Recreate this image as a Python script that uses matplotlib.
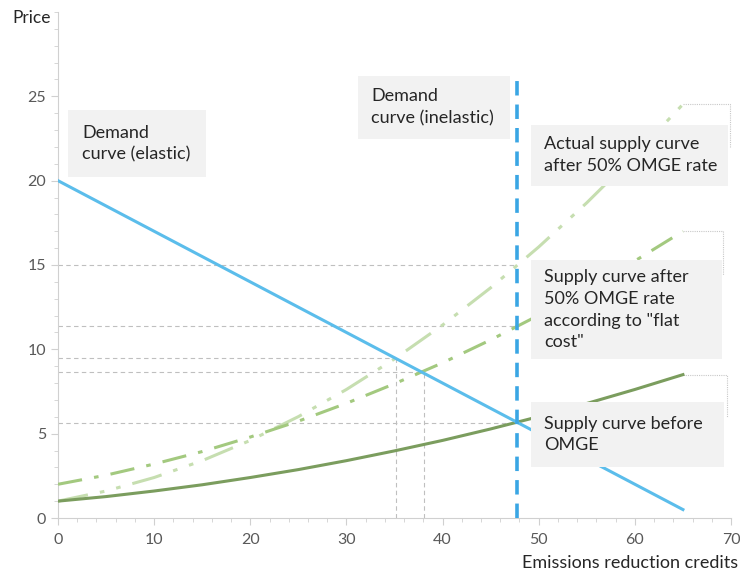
import numpy as np
import matplotlib
matplotlib.use("Agg")
import matplotlib.pyplot as plt
from matplotlib.ticker import MultipleLocator

plt.rcParams["font.family"] = ["Lato", "DejaVu Sans"]

# --- data ---
credits = [0, 5, 10, 15, 20, 25, 30, 35, 40, 45, 50, 55, 60, 65]
supply_before = [1.00, 1.27, 1.60, 1.97, 2.40, 2.87, 3.40, 3.98, 4.60, 5.28,
                 6.01, 6.79, 7.62, 8.50]
supply_flat = [2.00, 2.54, 3.20, 3.94, 4.80, 5.74, 6.80, 7.96, 9.20, 10.56,
               12.02, 13.58, 15.24, 17.00]
supply_actual = [1.00, 1.60, 2.40, 3.40, 4.60, 6.01, 7.62, 9.43, 11.44, 13.65,
                 16.07, 18.69, 21.51, 24.53]
demand_x = [0, 65]
demand_y = [20, 0.5]
inelastic_x = 47.7
inelastic_top = 26.0

# guide lines: (price level, x where it stops)
guide_h = [(15.0, 47.7), (11.4, 47.7), (9.47, 35.2), (8.65, 38.1), (5.65, 47.7)]
guide_v = [(35.2, 9.47), (38.1, 8.65)]

C_DEM = "#5BBDEB"
C_INEL = "#3AA6E4"
C_BEFORE = "#7B9D5E"
C_FLAT = "#A3C97F"
C_ACT = "#C6DEB0"
C_GUIDE = "#BFBFBF"
C_TXT = "#595959"
C_BOX = "#F2F2F2"

fig = plt.figure(figsize=(7.4, 5.72), dpi=100)
ax = fig.add_axes([58 / 740, 54 / 572, 673 / 740, 506 / 572])
ax.set_xlim(0, 70)
ax.set_ylim(0, 30)

for y, xe in guide_h:
    ax.plot([0, xe], [y, y], color=C_GUIDE, lw=0.8, ls=(0, (4, 3)), zorder=1)
for x, ye in guide_v:
    ax.plot([x, x], [0, ye], color=C_GUIDE, lw=0.8, ls=(0, (4, 3)), zorder=1)

ax.plot(credits, supply_actual, color=C_ACT, lw=2.2,
        ls=(0, (10, 4, 1.5, 4, 1.5, 4)), zorder=3)
ax.plot(credits, supply_flat, color=C_FLAT, lw=2.2,
        ls=(0, (8, 4, 1.5, 4)), zorder=3)
ax.plot(credits, supply_before, color=C_BEFORE, lw=2.2, zorder=4)
ax.plot(demand_x, demand_y, color=C_DEM, lw=2.2, zorder=4)
ax.plot([inelastic_x, inelastic_x], [0, inelastic_top], color=C_INEL, lw=2.6,
        ls=(0, (4, 2.5)), zorder=5)

# callout leaders from curve ends to the boxes
for yend, xr, ybot in [(supply_actual[-1], 69.9, 22.0),
                       (supply_flat[-1], 69.2, 14.4),
                       (supply_before[-1], 69.6, 5.99)]:
    ax.plot([65, xr, xr], [yend, yend, ybot], color="#C8C8C8", lw=0.8,
            ls=(0, (1, 1)), zorder=2, clip_on=False)

fs = 13
boxes = [
    (1.0, 20.2, 15.4, 24.2, 2.5, "Demand\ncurve (elastic)"),
    (31.2, 22.5, 47.0, 26.2, 32.6, "Demand\ncurve (inelastic)"),
    (49.2, 19.7, 69.7, 23.3, 50.6, "Actual supply curve\nafter 50% OMGE rate"),
    (49.2, 9.4, 69.1, 15.3, 50.6,
     "Supply curve after\n50% OMGE rate\naccording to \"flat\ncost\""),
    (49.2, 3.0, 69.3, 6.9, 50.6, "Supply curve before\nOMGE"),
]
for x0, y0, x1, y1, xt, txt in boxes:
    ax.add_patch(plt.Rectangle((x0, y0), x1 - x0, y1 - y0, facecolor=C_BOX,
                               edgecolor="none", zorder=6))
    ax.text(xt, (y0 + y1) / 2, txt, fontsize=fs, color="#262626",
            va="center", ha="left", linespacing=1.45, zorder=7)

for s in ["top", "right"]:
    ax.spines[s].set_visible(False)
for s in ["left", "bottom"]:
    ax.spines[s].set_color("#D0D0D0")
ax.xaxis.set_major_locator(MultipleLocator(10))
ax.xaxis.set_minor_locator(MultipleLocator(2))
ax.set_yticks([0, 5, 10, 15, 20, 25])
ax.yaxis.set_minor_locator(MultipleLocator(1))
ax.tick_params(which="both", color="#D0D0D0", labelcolor=C_TXT, labelsize=11.5)
ax.tick_params(which="major", length=5)
ax.tick_params(which="minor", length=3)
ax.tick_params(axis="x", pad=6)

fig.text(12 / 740, 1 - 18 / 572, "Price", fontsize=12.5, color="#262626",
         va="center", ha="left")
fig.text(738 / 740, 1 - 563 / 572, "Emissions reduction credits", fontsize=13,
         color="#262626", va="center", ha="right")

fig.savefig("out.png", dpi=100)
